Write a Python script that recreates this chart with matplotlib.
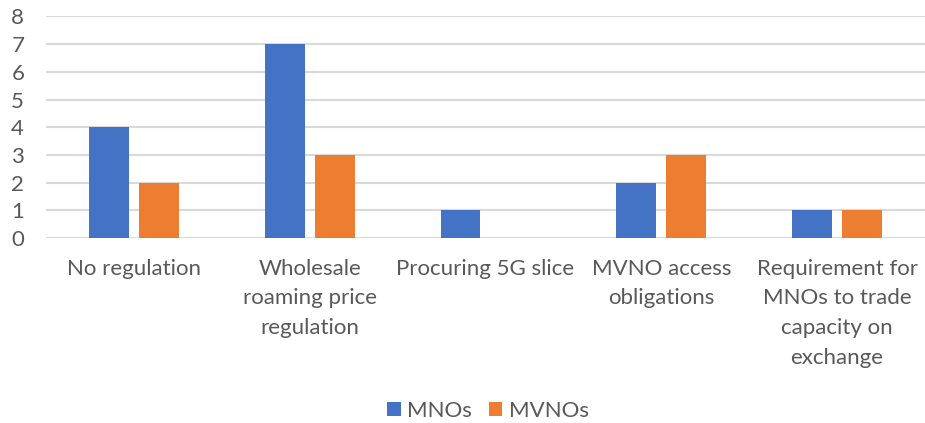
import numpy as np
import matplotlib
matplotlib.use("Agg")
import matplotlib.pyplot as plt

# Data
categories = [
    "No regulation",
    "Wholesale\nroaming price\nregulation",
    "Procuring 5G slice",
    "MVNO access\nobligations",
    "Requirement for\nMNOs to trade\ncapacity on\nexchange",
]
mnos = [4, 7, 1, 2, 1]
mvnos = [2, 3, 0, 3, 1]

text_color = "#595959"
plt.rcParams["font.family"] = ["Lato", "DejaVu Sans"]

fig = plt.figure(figsize=(9.25, 4.23), dpi=100)
ax = fig.add_axes([0.0497, 0.4374, 0.9503, 0.5236])

x = np.arange(len(categories))
width = 0.227
ax.bar(x - 0.142, mnos, width, color="#4472C4", label="MNOs", zorder=3)
ax.bar(x + 0.142, mvnos, width, color="#ED7D31", label="MVNOs", zorder=3)

ax.set_xlim(-0.5, len(categories) - 0.5)
ax.set_ylim(0, 8)
ax.set_yticks(range(0, 9))
ax.grid(axis="y", color="#D9D9D9", linewidth=1.5, zorder=0)
ax.set_axisbelow(True)
for s in ax.spines.values():
    s.set_visible(False)

ax.set_xticks(x)
ax.set_xticklabels(categories, linespacing=1.6)
ax.tick_params(axis="x", length=0, pad=15, labelsize=16, labelcolor=text_color)
ax.tick_params(axis="y", length=0, pad=25, labelsize=16, labelcolor=text_color)
for lbl in ax.get_yticklabels():
    lbl.set_horizontalalignment("left")

ax.legend(loc="center", bbox_to_anchor=(0.503, -0.78), ncol=2, frameon=False,
          fontsize=16, labelcolor=text_color, handlelength=0.6, handleheight=0.6,
          handletextpad=0.3, columnspacing=0.75)

fig.savefig("out.png", dpi=100)
